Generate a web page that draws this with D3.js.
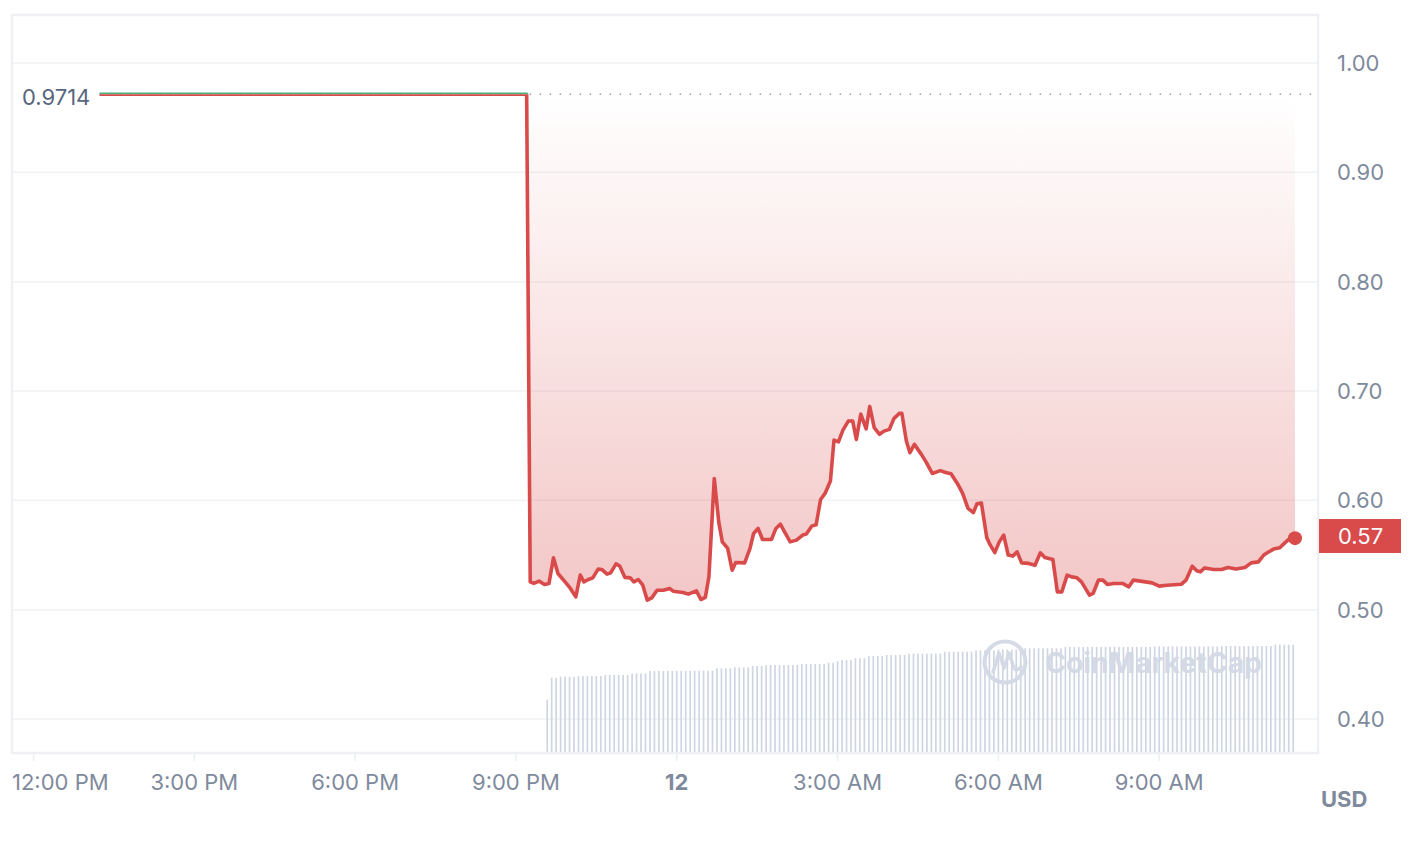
<!DOCTYPE html>
<html><head><meta charset="utf-8">
<script src="https://cdn.jsdelivr.net/npm/d3@7"></script>
<style>
body{margin:0;background:#fff;}
svg{display:block;font-family:Inter,'Noto Sans',sans-serif;}
</style>
</head><body>
<svg id="c" width="1412" height="852"></svg>
<script>
// ---------- DATA ----------
const priceTimes = [
"11 13:14","11 21:12","11 21:16","11 21:20","11 21:26","11 21:32","11 21:37","11 21:42","11 21:47","11 21:55",
"11 22:01","11 22:07","11 22:12","11 22:16","11 22:21","11 22:26","11 22:32","11 22:36","11 22:42","11 22:46",
"11 22:52","11 22:56","11 23:02","11 23:08","11 23:12","11 23:17","11 23:22","11 23:27","11 23:32","11 23:38",
"11 23:45","11 23:52","11 23:56","12 00:07","12 00:13","12 00:22","12 00:27","12 00:32","12 00:36","12 00:42",
"12 00:47","12 00:51","12 00:57","12 01:02","12 01:06","12 01:16","12 01:22","12 01:26","12 01:31","12 01:36",
"12 01:46","12 01:51","12 01:56","12 02:01","12 02:07","12 02:14","12 02:21","12 02:25","12 02:31","12 02:36",
"12 02:41","12 02:46","12 02:52","12 02:56","12 03:01","12 03:06","12 03:12","12 03:17","12 03:21","12 03:26",
"12 03:32","12 03:36","12 03:41","12 03:47","12 03:52","12 03:58","12 04:03","12 04:09","12 04:12","12 04:17",
"12 04:21","12 04:26","12 04:34","12 04:39","12 04:46","12 04:55","12 05:01","12 05:07","12 05:15","12 05:20",
"12 05:26","12 05:32","12 05:36","12 05:41","12 05:47","12 05:51","12 05:56","12 06:01","12 06:06","12 06:11",
"12 06:16","12 06:21","12 06:26","12 06:34","12 06:41","12 06:47","12 06:52","12 07:01","12 07:06","12 07:11",
"12 07:17","12 07:22","12 07:28","12 07:33","12 07:42","12 07:46","12 07:52","12 07:57","12 08:02","12 08:09",
"12 08:19","12 08:26","12 08:31","12 08:39","12 08:52","12 09:00","12 09:09","12 09:25","12 09:30","12 09:37",
"12 09:42","12 09:46","12 09:51","12 10:01","12 10:10","12 10:17","12 10:26","12 10:36","12 10:43","12 10:51",
"12 10:57","12 11:01","12 11:08","12 11:15","12 11:20","12 11:25","12 11:32"
];
const priceValues = [
0.9714,0.9714,0.5254,0.5240,0.5261,0.5231,0.5240,0.5474,0.5331,0.5254,
0.5194,0.5117,0.5316,0.5254,0.5276,0.5291,0.5371,0.5368,0.5325,0.5337,
0.5419,0.5401,0.5295,0.5291,0.5254,0.5276,0.5224,0.5087,0.5108,0.5178,
0.5178,0.5194,0.5169,0.5157,0.5142,0.5172,0.5093,0.5112,0.5300,0.6200,
0.5803,0.5620,0.5560,0.5361,0.5432,0.5428,0.5560,0.5697,0.5743,0.5642,
0.5642,0.5743,0.5782,0.5706,0.5620,0.5636,0.5682,0.5691,0.5764,0.5776,
0.6008,0.6063,0.6176,0.6551,0.6535,0.6642,0.6725,0.6725,0.6557,0.6789,
0.6654,0.6859,0.6665,0.6604,0.6633,0.6649,0.6747,0.6795,0.6795,0.6542,
0.6436,0.6512,0.6418,0.6352,0.6246,0.6272,0.6255,0.6244,0.6142,0.6063,
0.5926,0.5888,0.5968,0.5976,0.5659,0.5590,0.5522,0.5620,0.5682,0.5499,
0.5490,0.5529,0.5428,0.5423,0.5407,0.5520,0.5478,0.5459,0.5163,0.5163,
0.5316,0.5300,0.5291,0.5254,0.5133,0.5148,0.5270,0.5270,0.5231,0.5240,
0.5240,0.5209,0.5270,0.5261,0.5245,0.5215,0.5224,0.5233,0.5270,0.5398,
0.5355,0.5346,0.5382,0.5368,0.5368,0.5386,0.5371,0.5386,0.5428,0.5437,
0.5499,0.5520,0.5554,0.5566,0.5606,0.5642,0.5654
];
const volumeStart = "11 21:35";
const volumeStepMinutes = 5;
const volumeValues = [
49,69.4,69.4,70.4,70.4,70.4,70.4,71,71,71,71,71,71,72,72,72,72,72,72,73.4,
73.4,73.4,73.4,75.7,75.7,75.7,75.7,75.7,75.7,76,76,76,76,76,76,76,76,76,78.2,
78.2,78.2,78.2,79.2,79.2,79.2,79.2,80.4,80.4,80.4,81.3,81.3,81.3,81.3,81.3,81.3,81.3,
81.3,82.2,82.2,82.2,82.2,82.2,82.2,83.5,83.5,85,86,86,86,87.6,87.6,87.6,89.7,89.7,
89.7,89.7,90.7,90.7,90.7,90.7,90.7,91.9,91.9,91.9,91.9,91.9,91.9,91.9,91.9,93.7,93.7,
93.7,93.7,93.7,93.7,93.7,94.9,94.9,94.9,94.9,94.9,95.8,95.8,95.8,95.8,95.8,95.8,96.9,
96.9,96.9,96.9,96.9,96.9,96.9,96.9,96.9,98.2,98.2,98.2,98.2,98.2,98.2,98.2,98.2,98.2,
98.2,98.2,98.2,98.2,98.2,98.2,98.2,98.2,98.2,98.2,98.2,98.6,98.6,98.6,98.6,98.6,98.6,
98.6,98.6,98.6,98.6,98.6,98.6,98.6,98.6,98.6,99,99,99,99,99,99,99,99,99,99,99,99,
100.3,100.3,100.3,100.3,100.3
];
const yTickValues = [0.40,0.50,0.60,0.70,0.80,0.90,1.00];
const yTickLabels = ["0.40","0.50","0.60","0.70","0.80","0.90","1.00"];
const xTickTimes = ["11 12:00","11 15:00","11 18:00","11 21:00","12 00:00","12 03:00","12 06:00","12 09:00"];
const xTickLabels = ["12:00 PM","3:00 PM","6:00 PM","9:00 PM","12","3:00 AM","6:00 AM","9:00 AM"];
const openPrice = 0.9714;
const openPriceLabel = "0.9714";
const lastPriceLabel = "0.57";
const currencyLabel = "USD";
const watermarkText = "CoinMarketCap";

// ---------- CHART ----------
const parse = d3.timeParse("%d %H:%M");
const W = 1412, H = 852;
const frame = {l:12, t:15, r:1318, b:753};
const RED = "#d94b4b", GREEN = "#4bb27c", AXIS = "#808a9d", GRID = "#f1f2f5";
const FS = 22;

const svg = d3.select("#c");
svg.append("rect").attr("width", W).attr("height", H).attr("fill", "#fff");

const x = d3.scaleTime().domain([parse("11 12:00"), parse("12 12:00")]).range([33.5, 1320]);
const y = d3.scaleLinear().domain([0.4, 1.0]).range([719, 63]);
const yv = d3.scaleLinear().domain([0, 100]).range([frame.b - 1, 645]);

const price = priceTimes.map((t, i) => ({t: parse(t), v: priceValues[i]}));
const vol = volumeValues.map((v, i) => ({t: d3.timeMinute.offset(parse(volumeStart), i * volumeStepMinutes), v}));
const yOpen = y(openPrice);

const defs = svg.append("defs");
const grad = defs.append("linearGradient").attr("id", "fillGrad")
  .attr("gradientUnits", "userSpaceOnUse").attr("x1", 0).attr("x2", 0)
  .attr("y1", yOpen).attr("y2", y(0.5));
grad.append("stop").attr("offset", 0).attr("stop-color", RED).attr("stop-opacity", 0);
grad.append("stop").attr("offset", 1).attr("stop-color", RED).attr("stop-opacity", 0.32);
defs.append("clipPath").attr("id", "above").append("rect")
  .attr("x", 0).attr("y", 0).attr("width", W).attr("height", yOpen);
defs.append("clipPath").attr("id", "below").append("rect")
  .attr("x", 0).attr("y", yOpen).attr("width", W).attr("height", H);

// gridlines
svg.append("g").selectAll("line").data(yTickValues).join("line")
  .attr("x1", frame.l).attr("x2", frame.r)
  .attr("y1", d => y(d)).attr("y2", d => y(d))
  .attr("stroke", GRID).attr("stroke-width", 1.5);

// frame
svg.append("rect").attr("x", frame.l).attr("y", frame.t)
  .attr("width", frame.r - frame.l).attr("height", frame.b - frame.t)
  .attr("fill", "none").attr("stroke", "#eef0f4").attr("stroke-width", 2.5);

// volume bars
svg.append("g").selectAll("rect").data(vol).join("rect")
  .attr("x", d => x(d.t) - 0.85).attr("width", 1.7)
  .attr("y", d => yv(d.v)).attr("height", d => yv(0) - yv(d.v))
  .attr("fill", "#cfd6e3");

// watermark
const wm = svg.append("g").attr("opacity", 0.95);
wm.append("circle").attr("cx", 1005).attr("cy", 662).attr("r", 20.5)
  .attr("fill", "none").attr("stroke", "#d3d9e5").attr("stroke-width", 4);
wm.append("path")
  .attr("d", "M993,672 L999,653 L1004,668 L1009,653 L1014,668 Q1016,672 1021,667")
  .attr("fill", "none").attr("stroke", "#d3d9e5").attr("stroke-width", 3.5)
  .attr("stroke-linejoin", "round").attr("stroke-linecap", "round");
wm.append("text").attr("x", 1045).attr("y", 673).text(watermarkText)
  .attr("font-size", 28).attr("font-weight", 700).attr("fill", "#d3d9e5")
  .attr("textLength", 217).attr("lengthAdjust", "spacingAndGlyphs");

// area fill
const after = price.slice(1);
svg.append("path").datum(after)
  .attr("clip-path", "url(#below)")
  .attr("d", d3.area().x(d => x(d.t)).y0(yOpen).y1(d => y(d.v)))
  .attr("fill", "url(#fillGrad)");

// baseline dotted
svg.append("line")
  .attr("x1", x(price[0].t)).attr("x2", frame.r - 2)
  .attr("y1", yOpen).attr("y2", yOpen)
  .attr("stroke", "#9aa1ae").attr("stroke-width", 1.5)
  .attr("stroke-dasharray", "1.5,8.5");

// price line (green above open, red below)
const line = d3.line().x(d => x(d.t)).y(d => y(d.v));
[["above", GREEN], ["below", RED]].forEach(([c, col]) => {
  svg.append("path").datum(price).attr("clip-path", `url(#${c})`)
    .attr("d", line).attr("fill", "none").attr("stroke", col)
    .attr("stroke-width", 3.6).attr("stroke-linejoin", "round").attr("stroke-linecap", "butt");
});

// last point dot
const last = price[price.length - 1];
svg.append("circle").attr("cx", x(last.t)).attr("cy", y(last.v)).attr("r", 7).attr("fill", RED);

// open price label
svg.append("text").attr("x", 22).attr("y", yOpen + 3).attr("dy", "0.36em")
  .attr("font-size", FS).attr("fill", "#58667e").text(openPriceLabel);

// y axis labels
svg.append("g").selectAll("text").data(yTickValues).join("text")
  .attr("x", 1337).attr("y", d => y(d)).attr("dy", "0.36em")
  .attr("font-size", FS).attr("fill", AXIS)
  .text((d, i) => yTickLabels[i]);

// last price box
svg.append("rect").attr("x", 1319).attr("y", 519).attr("width", 82).attr("height", 34)
  .attr("fill", RED);
svg.append("text").attr("x", 1338).attr("y", 536).attr("dy", "0.36em")
  .attr("font-size", FS).attr("fill", "#fff").text(lastPriceLabel);

// x ticks and labels
const xt = svg.append("g");
xTickTimes.forEach((t, i) => {
  const px = x(parse(t));
  xt.append("line").attr("x1", px).attr("x2", px).attr("y1", frame.b + 1).attr("y2", frame.b + 8)
    .attr("stroke", "#eceef2").attr("stroke-width", 1.5);
  const txt = xt.append("text").attr("x", px).attr("y", 790)
    .attr("text-anchor", "middle").attr("font-size", FS)
    .attr("fill", AXIS).attr("font-weight", xTickLabels[i] === "12" ? 700 : 400)
    .text(xTickLabels[i]);
  const w = txt.node().getComputedTextLength();
  if (px - w / 2 < 12) txt.attr("text-anchor", "start").attr("x", 12);
});

// currency label
svg.append("text").attr("x", 1321).attr("y", 799).attr("dy", "0.36em")
  .attr("font-size", FS).attr("font-weight", 700).attr("fill", AXIS).text(currencyLabel);
</script>
</body></html>
